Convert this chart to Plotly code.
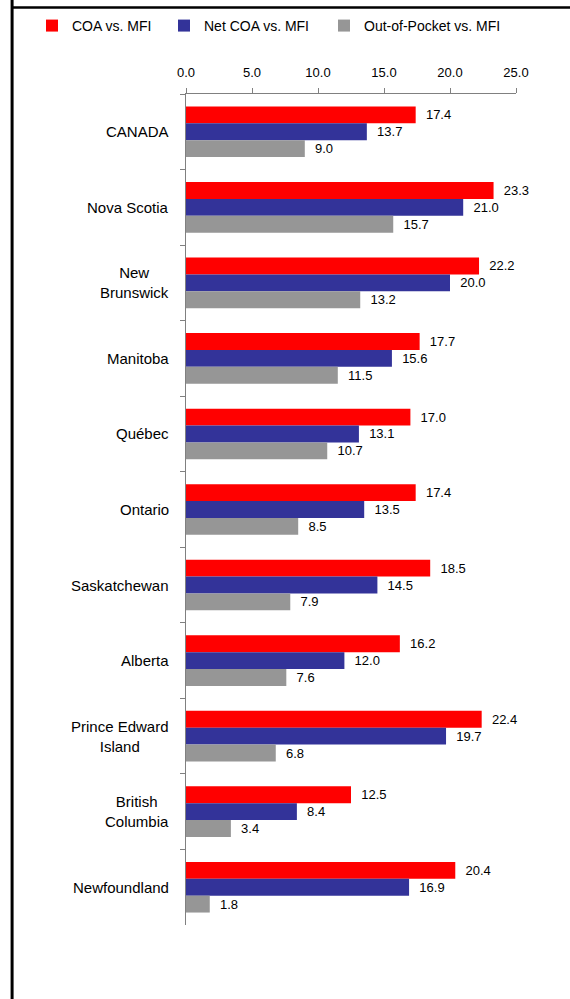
import plotly.graph_objects as go

FONT = "Liberation Sans, Arial, sans-serif"

provinces = [
    "CANADA", "Nova Scotia", "New<br>Brunswick", "Manitoba", "Québec", "Ontario",
    "Saskatchewan", "Alberta", "Prince Edward<br>Island", "British<br>Columbia", "Newfoundland",
]
coa = [17.4, 23.3, 22.2, 17.7, 17.0, 17.4, 18.5, 16.2, 22.4, 12.5, 20.4]
net_coa = [13.7, 21.0, 20.0, 15.6, 13.1, 13.5, 14.5, 12.0, 19.7, 8.4, 16.9]
out_of_pocket = [9.0, 15.7, 13.2, 11.5, 10.7, 8.5, 7.9, 7.6, 6.8, 3.4, 1.8]
x_ticks = [0, 5, 10, 15, 20, 25]

series = [
    ("COA vs. MFI", coa, "#FF0000", "legend", 32),
    ("Net COA vs. MFI", net_coa, "#333399", "legend2", 164),
    ("Out-of-Pocket vs. MFI", out_of_pocket, "#969696", "legend3", 324),
]

fig = go.Figure()
legends = {}
for name, vals, color, leg, leg_x in series:
    fig.add_trace(
        go.Bar(
            y=provinces,
            x=vals,
            name=name,
            orientation="h",
            legend=leg,
            marker=dict(color=color, line=dict(width=0)),
            text=[f"{v:.1f}" for v in vals],
            texttemplate="  %{text}",
            textposition="outside",
            constraintext="none",
            cliponaxis=False,
            textfont=dict(family=FONT, size=13, color="#000000"),
        )
    )
    # one legend box per series so each entry sits where the original has it
    legends[leg] = dict(
        orientation="h", xref="container", yref="container", x=leg_x / 570, y=0.974,
        xanchor="left", yanchor="middle", font=dict(family=FONT, size=14),
        itemwidth=30, bgcolor="rgba(0,0,0,0)",
    )

# category labels centred like the original (multi-line ones too)
for p in provinces:
    fig.add_annotation(
        x=-0.045, xref="paper", y=p, yref="y",
        text=p, showarrow=False, xanchor="right", align="center",
        font=dict(family=FONT, size=15, color="#000000"),
    )

# frame lines of the surrounding cell
fig.add_shape(type="line", xref="paper", yref="paper", x0=-0.527, x1=-0.527, y0=1.12, y1=-0.1,
              line=dict(color="#000000", width=3))
fig.add_shape(type="line", xref="paper", yref="paper", x0=-0.527, x1=1.2, y0=1.104, y1=1.104,
              line=dict(color="#000000", width=2.5))

fig.update_layout(
    width=570,
    height=999,
    margin=dict(l=186, r=54, t=94, b=74, pad=0),
    paper_bgcolor="white",
    plot_bgcolor="white",
    barmode="group",
    bargap=0.33,
    bargroupgap=0,
    font=dict(family=FONT, size=13, color="#000000"),
    showlegend=True,
    xaxis=dict(
        side="top", range=[0, 25], tickvals=x_ticks, tickformat=".1f",
        ticks="outside", ticklen=5, tickcolor="#808080", showgrid=False, zeroline=False,
        showline=True, linecolor="#808080", linewidth=1, fixedrange=True,
        ticklabelstandoff=6, tickfont=dict(family=FONT, size=13),
    ),
    yaxis=dict(
        autorange="reversed", showticklabels=False, ticks="outside", ticklen=5,
        tickson="boundaries", tickcolor="#808080", showline=True, linecolor="#808080",
        linewidth=1, showgrid=False, zeroline=False,
    ),
    **legends,
)

fig.write_html(
    "out.html",
    config={"displayModeBar": False},
    post_script="document.body.style.margin='0';",
)
